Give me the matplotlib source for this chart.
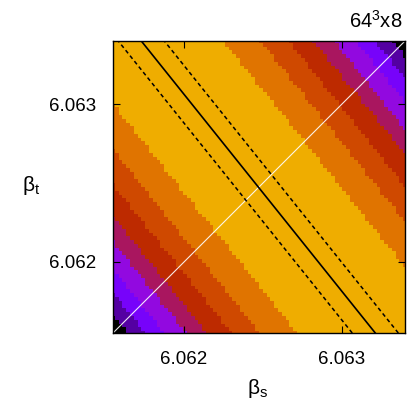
import numpy as np
import matplotlib
matplotlib.use("Agg")
import matplotlib.pyplot as plt
from matplotlib.colors import ListedColormap, BoundaryNorm

plt.rcParams['font.family'] = ['Liberation Sans', 'DejaVu Sans']
plt.rcParams['mathtext.fontset'] = 'custom'
plt.rcParams['mathtext.rm'] = 'Liberation Sans'
plt.rcParams['mathtext.it'] = 'Liberation Sans'
plt.rcParams['mathtext.bf'] = 'Liberation Sans'

# axis range (same for beta_s and beta_t)
beta_range = [6.06155, 6.06340]
tick_values = [6.062, 6.063]
tick_labels = ['6.062', '6.063']

# fitted line: crosses the diagonal at beta_cross, slope d(beta_t)/d(beta_s)
beta_cross = 6.0624725
line_slope = -1.248
band_center = 0.000012      # shift of the maximum from the fitted line (in beta_s)
dashed_offset = 0.000146    # error band (in beta_s)

# chi^2-like level edges (units of (1e-3)^2 in beta_s), from the centre outwards
level_edges = [0.26, 0.55, 0.85, 1.17, 1.46, 1.82, 2.16, 2.50]
n_grid = 78

# colours: gnuplot palette (rgbformulae 7,5,15), 9 discrete steps
cmap_full = plt.get_cmap('gnuplot')
color_fracs = [0.875 * k / 8 for k in range(8, -1, -1)]
band_colors = [cmap_full(f) for f in color_fracs]

fig = plt.figure(figsize=(4.09, 4.09), dpi=100)
ax = fig.add_axes([113 / 409, 76 / 409, 292 / 409, 292 / 409])

g = np.linspace(beta_range[0], beta_range[1], n_grid)
bs, bt = np.meshgrid(g, g)
u = (bs - beta_cross) + (bt - beta_cross) / (-line_slope) - band_center
chi2 = (u / 0.001) ** 2

cmap = ListedColormap(band_colors)
norm = BoundaryNorm([0] + level_edges + [100], cmap.N)
ax.pcolormesh(bs, bt, chi2, cmap=cmap, norm=norm, shading='nearest')

# diagonal
ax.plot(beta_range, beta_range, color='white', lw=0.8, alpha=0.9)

# fitted line and its errors
bt_line = np.array(beta_range)
bs_line = beta_cross + (bt_line - beta_cross) / line_slope
ax.plot(bs_line, bt_line, color='black', lw=1.2)
for off in (-dashed_offset, dashed_offset):
    ax.plot(bs_line + off, bt_line, color='black', lw=1.1, dashes=(2.6, 2.0))

ax.set_xlim(beta_range)
ax.set_ylim(beta_range)
ax.set_xticks(tick_values)
ax.set_xticklabels(tick_labels)
ax.set_yticks(tick_values)
ax.set_yticklabels(tick_labels)
ax.tick_params(direction='in', length=5, width=0.8, top=True, right=True,
               labelsize=13.5, colors='black')
ax.tick_params(axis='x', pad=13)
ax.tick_params(axis='y', pad=12)
for s in ax.spines.values():
    s.set_linewidth(1.0)

fig.text(257 / 409, 1 - 394 / 409, r'$\beta_\mathrm{s}$', ha='center',
         va='baseline', fontsize=15)
fig.text(22 / 409, 1 - 191 / 409, r'$\beta_\mathrm{t}$', ha='left',
         va='baseline', fontsize=15)
fig.text(402 / 409, 1 - 28 / 409, r'$\mathrm{64^3x8}$', ha='right',
         va='baseline', fontsize=14.5)

fig.savefig('out.png', dpi=100)
